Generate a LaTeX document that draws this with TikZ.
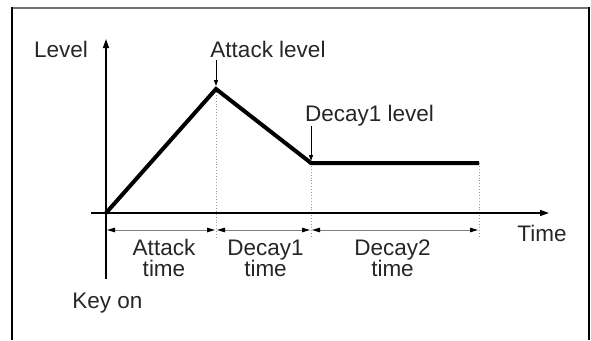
\documentclass[tikz,border=0pt]{standalone}
\usepackage{fontspec}
\setmainfont{Liberation Sans}
\usetikzlibrary{arrows.meta}
\begin{document}
\begin{tikzpicture}[x=1pt,y=-1pt,
  lbl/.style={font=\fontsize{22.5}{21}\selectfont, inner sep=0pt, anchor=base, align=center, text=black!85},
  axis/.style={line width=1.4pt, -{Triangle[length=9pt,width=6pt]}},
  env/.style={line width=4pt, line join=miter},
  guide/.style={black!40, line width=0.9pt, dotted},
  dim/.style={black!50, line width=1pt, {Triangle[length=8pt,width=4.5pt,color=black]}-{Triangle[length=8pt,width=4.5pt,color=black]}},
  pointer/.style={line width=1pt, -{Triangle[length=6pt,width=4pt]}},
  framel/.style={line width=1.3pt}]
\useasboundingbox (0,0) rectangle (591,340);
% frame
\draw[black!55, line width=2.5pt] (11.35,8) -- (589.65,8);
\draw[framel] (12,7) -- (12,340);
\draw[framel] (589,7) -- (589,340);
% points
\coordinate (O) at (106,213);
\coordinate (P) at (216,89);
\coordinate (D) at (311,163);
\coordinate (E) at (479,163);
\coordinate (Ytop) at (106,39);
\coordinate (Ybot) at (106,279);
\coordinate (Xl) at (91,213);
\coordinate (Xr) at (549,213);
\coordinate (Pb) at (216,237);
\coordinate (Db) at (311,238);
\coordinate (Eb) at (479,238);
\coordinate (A1) at (107,230);
\coordinate (A2) at (215,230);
\coordinate (B1) at (217,230);
\coordinate (B2) at (310,230);
\coordinate (C1) at (312,230);
\coordinate (C2) at (478,230);
% guides
\draw[guide] (P) -- (Pb);
\draw[guide] (D) -- (Db);
\draw[guide] (E) -- (Eb);
% axes
\draw[axis] (Ybot) -- (Ytop);
\draw[axis] (Xl) -- (Xr);
% envelope
\draw[env] (O) -- (P) -- (D) -- (E);
% dimension arrows
\draw[dim] (A1) -- (A2);
\draw[dim] (B1) -- (B2);
\draw[dim] (C1) -- (C2);
% labels
\node[lbl] (level) at (61,57) {Level};
\node[lbl] (attlvl) at (268,57) {Attack level};
\node[lbl] (declvl) at (369.5,121) {Decay1 level};
\node[lbl] (time) at (542,241) {Time};
\node[lbl] (atttime) at (164,276) {Attack\\time};
\node[lbl] (d1time) at (265.5,276) {Decay1\\time};
\node[lbl] (d2time) at (392.5,276) {Decay2\\time};
\node[lbl] (keyon) at (107.5,308) {Key on};
% pointers
\draw[pointer, shorten >=3pt] ([yshift=-3pt]attlvl.south -| P) -- (P);
\draw[pointer, shorten >=2pt] (declvl.south -| D) -- (D);
\end{tikzpicture}
\end{document}
